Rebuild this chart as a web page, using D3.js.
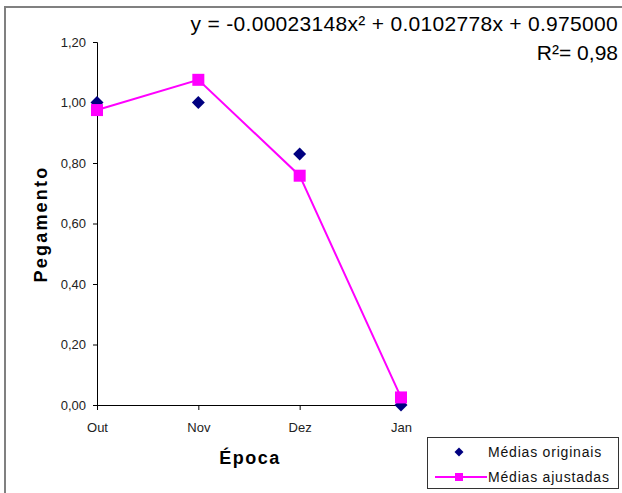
<!DOCTYPE html>
<html><head><meta charset="utf-8">
<script src="https://cdn.jsdelivr.net/npm/d3@7"></script>
<style>body{margin:0;background:#fff;} svg{display:block;font-family:"Liberation Sans",Arial,sans-serif;}</style>
</head><body>
<svg id="c" width="622" height="493"></svg>
<script>
const categories = ["Out","Nov","Dez","Jan"];
const originais = [1.00, 1.00, 0.83, 0.00];
const ajustadas = [0.975, 1.075, 0.758, 0.025];
const yTicks = [0, 0.2, 0.4, 0.6, 0.8, 1.0, 1.2];
const equationText = "y = -0.00023148x\u00B2 + 0.0102778x + 0.975000";
const r2Text = "R\u00B2= 0,98";
const legendLabels = ["Médias originais","Médias ajustadas"];

const svg = d3.select("#c");
svg.append("path").attr("d","M5,500 L5,7 L640,7").attr("fill","none").attr("stroke","#808080").attr("stroke-width",2);

const x = d3.scalePoint().domain(categories).range([97,401]);
const y = d3.scaleLinear().domain([0,1.2]).range([405,42]);
const fmt = d => d3.format(".2f")(d).replace(".",",");

const ya = svg.append("g").attr("transform","translate(97,0)")
  .call(d3.axisLeft(y).tickValues(yTicks).tickFormat(fmt).tickSize(4).tickPadding(7));
ya.select(".domain").attr("stroke","#000").attr("d","M-4,42.5H0.5V405.5");
ya.selectAll("text").attr("font-size",13).attr("fill","#222").attr("font-family","Liberation Sans, Arial, sans-serif");

const xa = svg.append("g").attr("transform","translate(0,405)")
  .call(d3.axisBottom(x).tickSize(5).tickPadding(13));
xa.select(".domain").attr("stroke","#000").attr("d","M97,0.5H401");
xa.selectAll("text").attr("font-size",13).attr("fill","#222").attr("font-family","Liberation Sans, Arial, sans-serif");

svg.append("text").attr("x",250).attr("y",464).attr("text-anchor","middle")
  .attr("font-size",18).attr("font-weight","bold").attr("letter-spacing",1.5).text("Época");
svg.append("text").attr("transform","translate(47,224) rotate(-90)").attr("text-anchor","middle")
  .attr("font-size",18).attr("font-weight","bold").attr("letter-spacing",2.2).text("Pegamento");

const line = d3.line().x((d,i)=>x(categories[i])).y(d=>y(d));
svg.append("path").datum(ajustadas).attr("d",line).attr("fill","none").attr("stroke","#FF00FF").attr("stroke-width",2);

svg.selectAll(".dia").data(originais).join("path")
  .attr("d",d3.symbol().type(d3.symbolSquare).size(84))
  .attr("transform",(d,i)=>`translate(${x(categories[i])},${y(d)}) rotate(45)`)
  .attr("fill","#000080");

svg.selectAll(".sq").data(ajustadas).join("rect")
  .attr("x",(d,i)=>x(categories[i])-6).attr("y",d=>y(d)-6)
  .attr("width",12).attr("height",12).attr("fill","#FF00FF");

svg.append("text").attr("x",618).attr("y",31).attr("text-anchor","end").attr("font-size",21).attr("letter-spacing",0.3).attr("fill","#000").text(equationText);
svg.append("text").attr("x",618).attr("y",60).attr("text-anchor","end").attr("font-size",21).attr("fill","#000").text(r2Text);

const lg = svg.append("g");
lg.append("rect").attr("x",427.5).attr("y",437.5).attr("width",191).attr("height",51).attr("fill","#fff").attr("stroke","#333");
lg.append("path").attr("d",d3.symbol().type(d3.symbolSquare).size(40)).attr("transform","translate(459,452) rotate(45)").attr("fill","#000080");
lg.append("line").attr("x1",435).attr("x2",487).attr("y1",477).attr("y2",477).attr("stroke","#FF00FF").attr("stroke-width",2);
lg.append("rect").attr("x",455).attr("y",473).attr("width",8).attr("height",8).attr("fill","#FF00FF");
legendLabels.forEach((t,i)=>{
  lg.append("text").attr("x",488).attr("y",457+i*25).attr("font-size",14).attr("letter-spacing",0.8).attr("fill","#111").text(t);
});
</script>
</body></html>
